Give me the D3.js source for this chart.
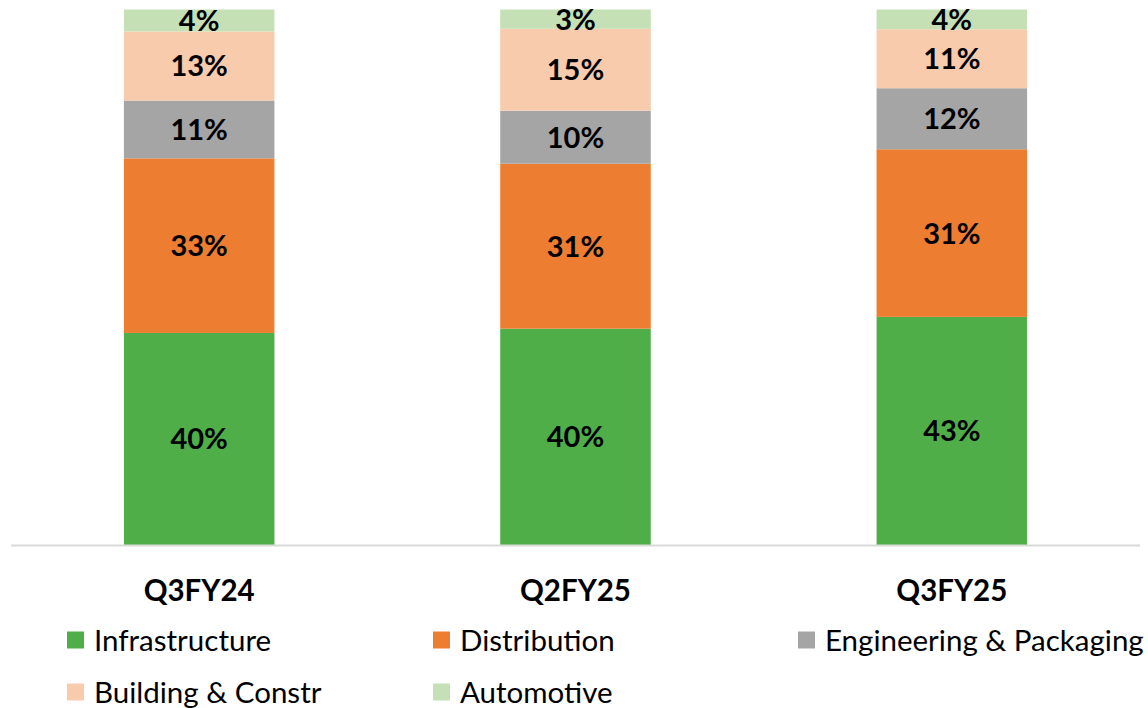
<!DOCTYPE html>
<html>
<head>
<meta charset="utf-8">
<script src="https://cdn.jsdelivr.net/npm/d3@7"></script>
<style>
  body { margin: 0; background: #fff; }
  svg { display: block; font-family: Lato, "Open Sans", sans-serif; }
</style>
</head>
<body>
<div id="vis"></div>
<script>
// segment shares, labels are the rounded numbers shown
let periods = ["Q3FY24", "Q2FY25", "Q3FY25"]
let segments = ["Infrastructure", "Distribution", "Engineering & Packaging", "Building & Constr", "Automotive"]
let colors = ["#50AE48", "#ED7D31", "#A5A5A5", "#F8CBAD", "#C5E0B4"]

let infrastructure = [39.6, 40.4, 42.6]
let distribution   = [32.6, 30.8, 31.3]
let engineering    = [10.8,  9.9, 11.4]
let building       = [12.9, 15.3, 11.0]
let automotive     = [ 4.1,  3.6,  3.7]
let labels = [
    ["40%", "33%", "11%", "13%", "4%"],
    ["40%", "31%", "10%", "15%", "3%"],
    ["43%", "31%", "12%", "11%", "4%"]
]

let series = [infrastructure, distribution, engineering, building, automotive]

let rows = periods.map((p, i) => {
    let r = { period: p, idx: i }
    segments.forEach((s, j) => r[s] = series[j][i])
    return r
})

let width = 1148, height = 708

let svg = d3.select("#vis").append("svg")
    .attr("width", width)
    .attr("height", height)

let x = d3.scaleBand()
    .domain(periods)
    .range([11, 1140])
    .paddingInner(0.6)
    .paddingOuter(0.3)

let y = d3.scaleLinear()
    .domain([0, 100])
    .range([545, 9.5])

let color = d3.scaleOrdinal().domain(segments).range(colors)

let stacked = d3.stack().keys(segments)(rows)

let layers = svg.append("g")
    .selectAll("g")
    .data(stacked)
    .join("g")
    .attr("fill", d => color(d.key))

layers.selectAll("rect")
    .data(d => d)
    .join("rect")
    .attr("x", d => x(d.data.period))
    .attr("width", x.bandwidth())
    .attr("y", d => y(d[1]))
    .attr("height", d => y(d[0]) - y(d[1]))

// data labels
let labelG = svg.append("g")
    .attr("font-weight", "bold")
    .attr("font-size", 29)
    .attr("fill", "#000")
    .attr("text-anchor", "middle")

stacked.forEach((layer, j) => {
    labelG.selectAll(null)
        .data(layer)
        .join("text")
        .attr("x", d => x(d.data.period) + x.bandwidth() / 2)
        .attr("y", d => (y(d[0]) + y(d[1])) / 2)
        .attr("dy", "0.36em")
        .text(d => labels[d.data.idx][j])
})

// axis line
svg.append("line")
    .attr("x1", 11).attr("x2", 1140)
    .attr("y1", 545.5).attr("y2", 545.5)
    .attr("stroke", "#D9D9D9")
    .attr("stroke-width", 2)

// category labels
svg.append("g")
    .selectAll("text")
    .data(periods)
    .join("text")
    .attr("x", d => x(d) + x.bandwidth() / 2)
    .attr("y", 590)
    .attr("dy", "0.36em")
    .attr("text-anchor", "middle")
    .attr("font-weight", "bold")
    .attr("font-size", 29.5)
    .text(d => d)

// legend
let legendPos = [[67, 640], [433, 640], [798, 640], [67, 692], [433, 692]]

let legend = svg.append("g")
    .selectAll("g")
    .data(segments)
    .join("g")
    .attr("transform", (d, i) => `translate(${legendPos[i][0]},${legendPos[i][1]})`)

legend.append("rect")
    .attr("x", 0).attr("y", -8.5)
    .attr("width", 17).attr("height", 17)
    .attr("fill", d => color(d))

legend.append("text")
    .attr("x", 27)
    .attr("dy", "0.36em")
    .attr("font-size", 29.5)
    .text(d => d)
</script>
</body>
</html>
